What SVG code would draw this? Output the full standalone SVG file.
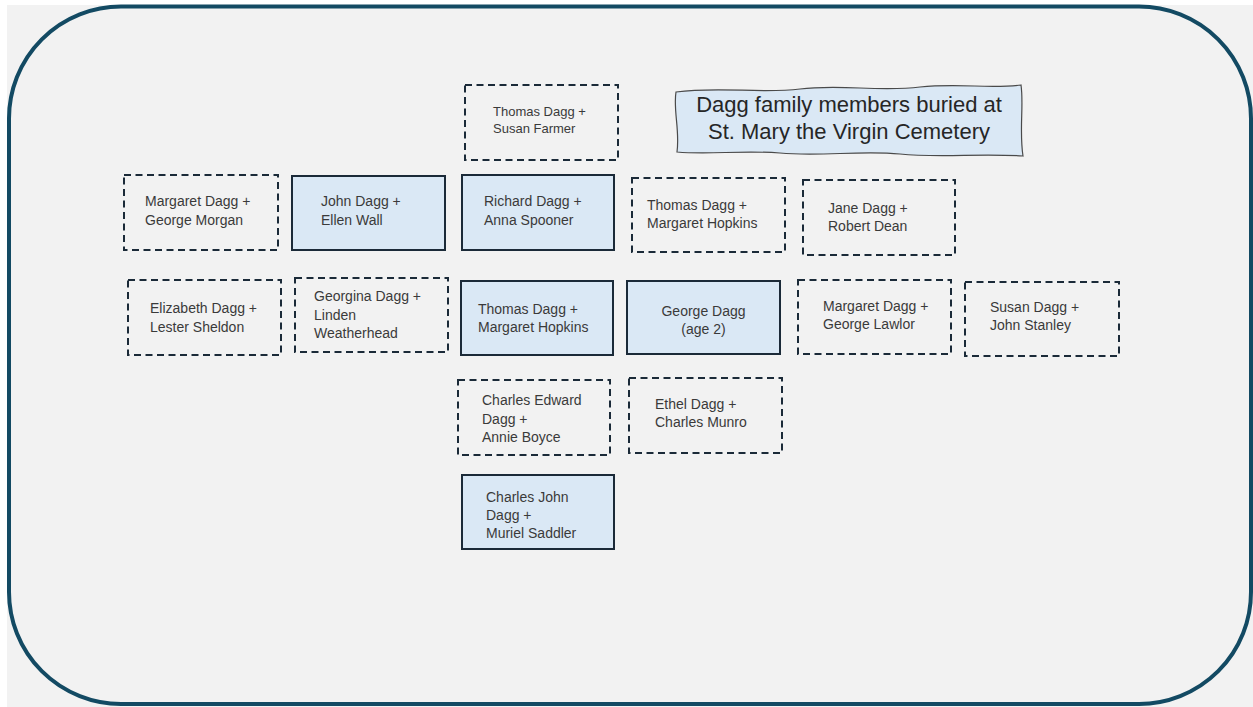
<svg xmlns="http://www.w3.org/2000/svg" width="1253" height="707" viewBox="0 0 1253 707">
<style>
.bg{fill:#f2f2f2}
.frame{fill:none;stroke:#134a63;stroke-width:4}
.dash{fill:none;stroke:#1b2a38;stroke-width:2;stroke-dasharray:7 4.5}
.solid{fill:#dae8f5;stroke:#1b2a38;stroke-width:2}
.t{font-family:"Liberation Sans",Arial,sans-serif;font-size:14px;fill:#3a3a3a}
.ts{font-size:13px}
.title{font-family:"Liberation Sans",Arial,sans-serif;font-size:22px;fill:#262626;text-anchor:middle}
.wavy{fill:#dae8f5;stroke:#4a4a4a;stroke-width:1.2}
</style>
<rect x="0" y="0" width="1253" height="707" fill="#ffffff"/>
<rect class="bg" x="7" y="5" width="1246" height="702"/>
<rect class="frame" x="9" y="6.5" width="1242" height="697.5" rx="112" ry="112"/>
<g id="connectors"></g>
<g id="title">
<path class="wavy" d="M676,92 C720,86 760,94 800,89 C840,84 880,92 920,87 C960,83 990,89 1021,85 C1024,105 1019,130 1023,156 C980,153 940,158 900,154 C860,150 820,157 780,153 C740,150 710,155 677,152 C680,130 673,110 676,92 Z"/>
<text class="title" x="849" y="112">Dagg family members buried at</text>
<text class="title" x="849" y="139">St. Mary the Virgin Cemetery</text>
</g>
<g id="n1"><rect class="dash" x="465" y="85" width="153" height="75"/><text class="t ts" x="493"><tspan x="493" y="116">Thomas Dagg +</tspan><tspan x="493" y="133">Susan Farmer</tspan></text></g>
<g id="n2"><rect class="dash" x="124" y="175" width="154" height="75"/><text class="t"><tspan x="145" y="206">Margaret Dagg +</tspan><tspan x="145" y="225">George Morgan</tspan></text></g>
<g id="n3"><rect class="solid" x="292" y="176" width="153" height="74"/><text class="t"><tspan x="321" y="206">John Dagg +</tspan><tspan x="321" y="225">Ellen Wall</tspan></text></g>
<g id="n4"><rect class="solid" x="462" y="175" width="152" height="75"/><text class="t"><tspan x="484" y="206">Richard Dagg +</tspan><tspan x="484" y="225">Anna Spooner</tspan></text></g>
<g id="n5"><rect class="dash" x="632" y="178" width="153" height="74"/><text class="t"><tspan x="647" y="210">Thomas Dagg +</tspan><tspan x="647" y="228">Margaret Hopkins</tspan></text></g>
<g id="n6"><rect class="dash" x="803" y="180" width="152" height="75"/><text class="t"><tspan x="828" y="213">Jane Dagg +</tspan><tspan x="828" y="231">Robert Dean</tspan></text></g>
<g id="n7"><rect class="dash" x="128" y="280" width="153" height="75"/><text class="t"><tspan x="150" y="313">Elizabeth Dagg +</tspan><tspan x="150" y="332">Lester Sheldon</tspan></text></g>
<g id="n8"><rect class="dash" x="295" y="278" width="153" height="74"/><text class="t"><tspan x="314" y="301">Georgina Dagg +</tspan><tspan x="314" y="320">Linden</tspan><tspan x="314" y="338">Weatherhead</tspan></text></g>
<g id="n9"><rect class="solid" x="461" y="281" width="152" height="74"/><text class="t"><tspan x="478" y="314">Thomas Dagg +</tspan><tspan x="478" y="332">Margaret Hopkins</tspan></text></g>
<g id="n10"><rect class="solid" x="627" y="281" width="153" height="73"/><text class="t" text-anchor="middle"><tspan x="703.5" y="316">George Dagg</tspan><tspan x="703.5" y="334">(age 2)</tspan></text></g>
<g id="n11"><rect class="dash" x="798" y="280" width="153" height="74"/><text class="t"><tspan x="823" y="311">Margaret Dagg +</tspan><tspan x="823" y="329">George Lawlor</tspan></text></g>
<g id="n12"><rect class="dash" x="965" y="282" width="154" height="74"/><text class="t"><tspan x="990" y="312">Susan Dagg +</tspan><tspan x="990" y="330">John Stanley</tspan></text></g>
<g id="n13"><rect class="dash" x="458" y="380" width="152" height="75"/><text class="t"><tspan x="482" y="405">Charles Edward</tspan><tspan x="482" y="424">Dagg +</tspan><tspan x="482" y="442">Annie Boyce</tspan></text></g>
<g id="n14"><rect class="dash" x="629" y="378" width="153" height="75"/><text class="t"><tspan x="655" y="409">Ethel Dagg +</tspan><tspan x="655" y="427">Charles Munro</tspan></text></g>
<g id="n15"><rect class="solid" x="462" y="475" width="152" height="74"/><text class="t"><tspan x="486" y="502">Charles John</tspan><tspan x="486" y="520">Dagg +</tspan><tspan x="486" y="538">Muriel Saddler</tspan></text></g>
</svg>
